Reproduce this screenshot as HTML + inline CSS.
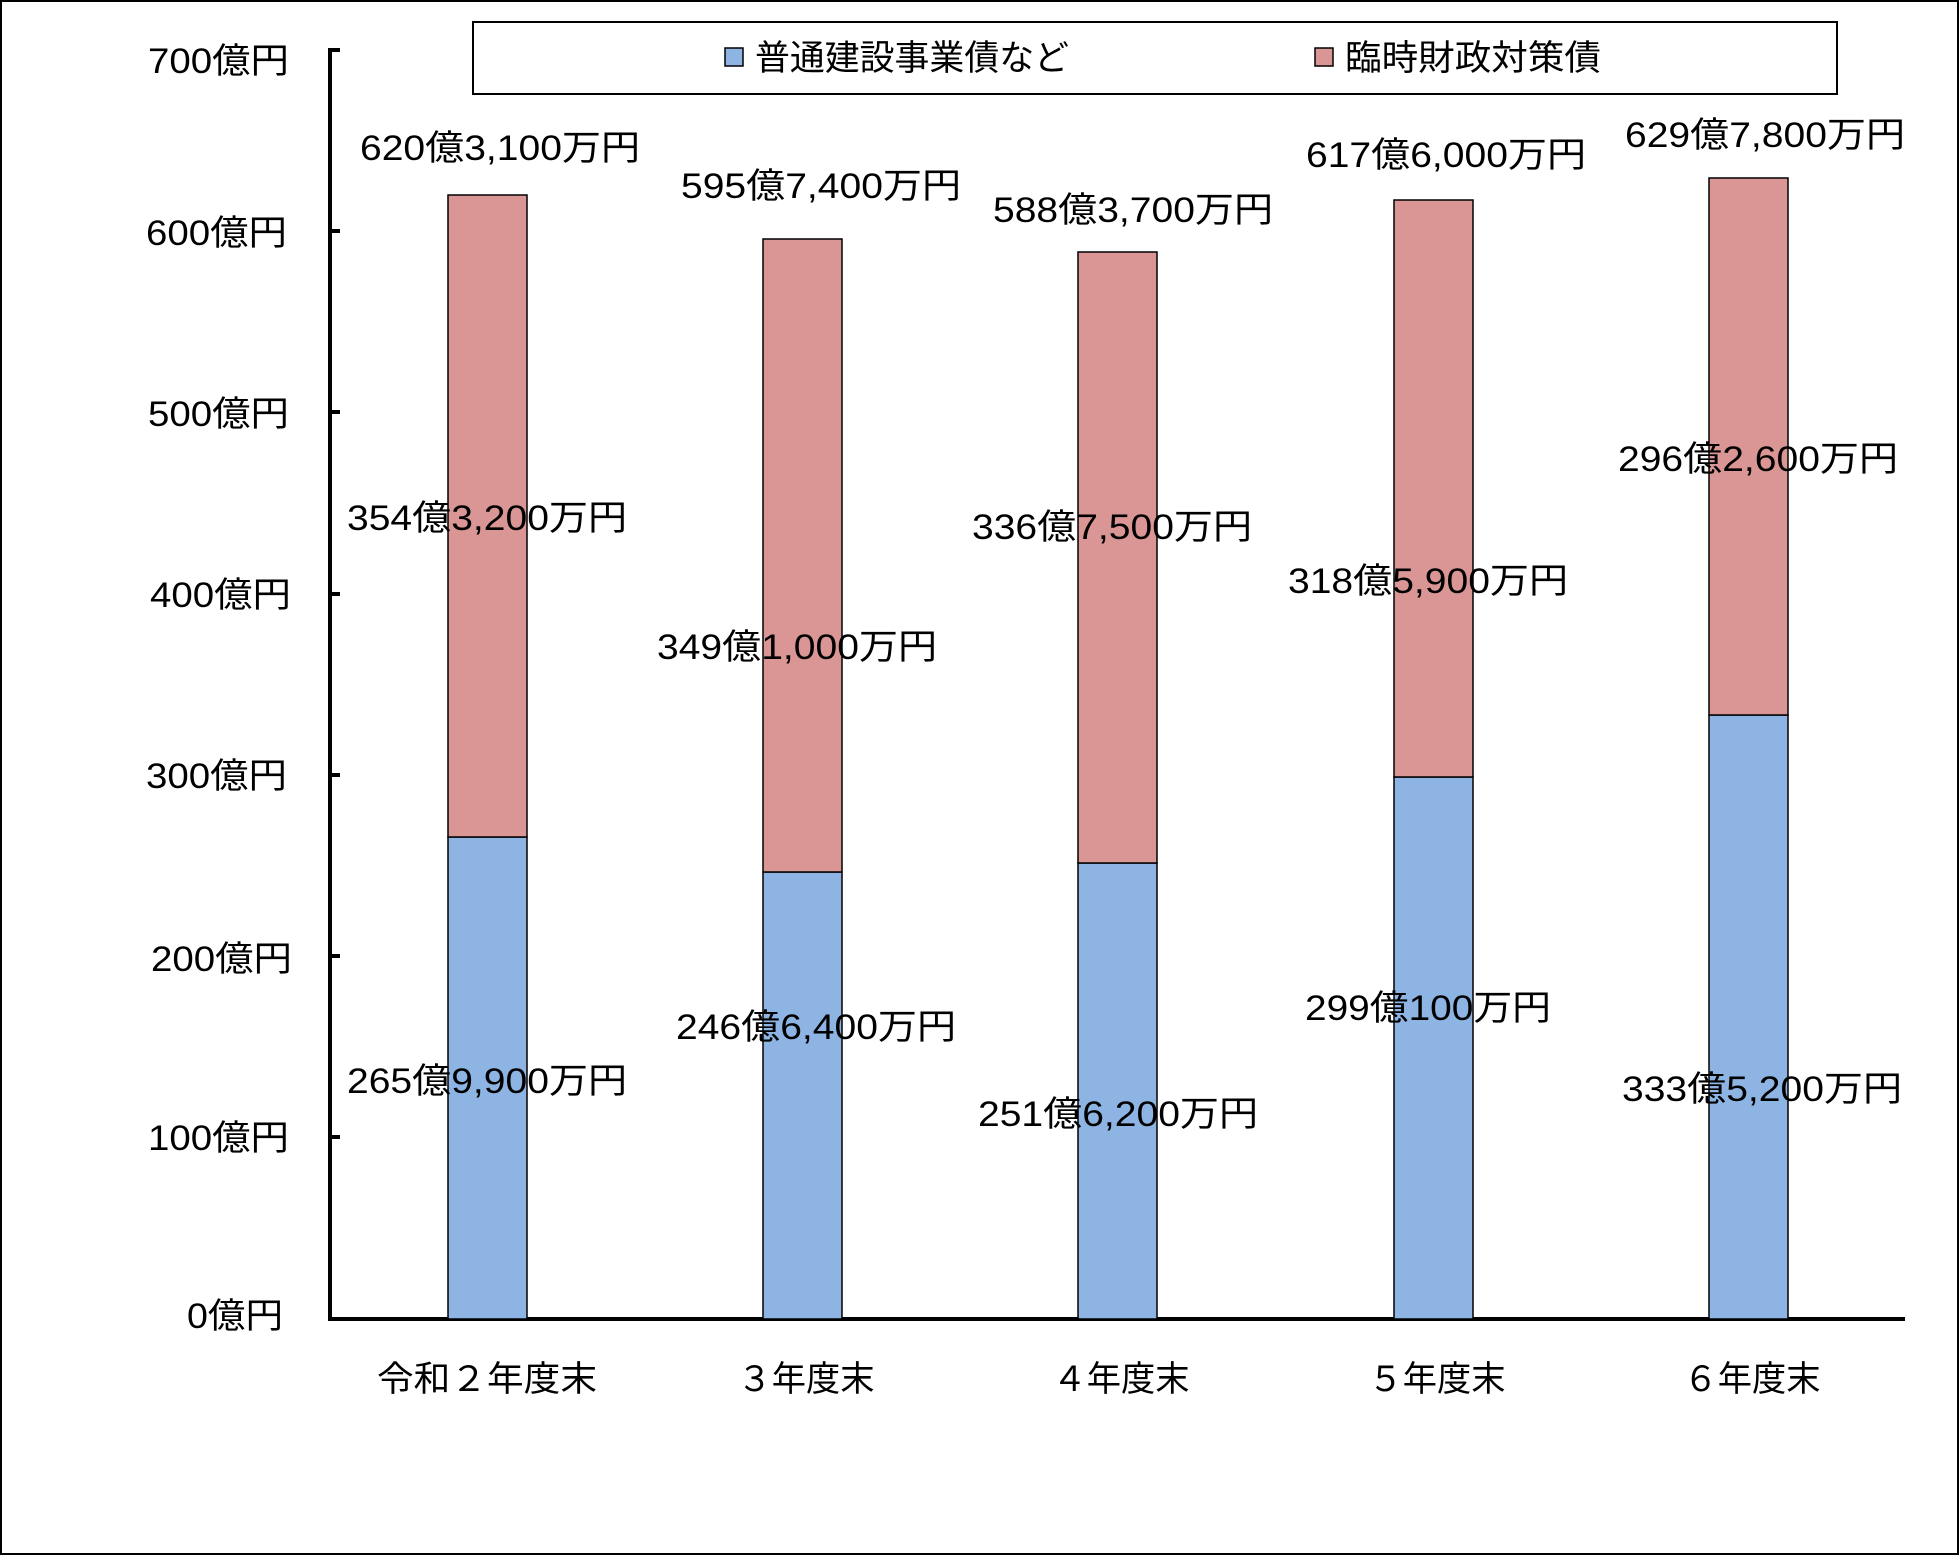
<!DOCTYPE html>
<html><head><meta charset="utf-8"><style>
html,body{margin:0;padding:0;background:#fff}
svg{display:block}
text{font-family:"Liberation Sans","Noto Sans CJK JP",sans-serif;font-size:35px;fill:#000}
</style></head><body>
<svg width="1959" height="1555" viewBox="0 0 1959 1555" xmlns="http://www.w3.org/2000/svg">
<rect x="1" y="1" width="1957" height="1553" fill="#fff" stroke="#000" stroke-width="2"/>
<rect x="473" y="22" width="1364" height="72" fill="#fff" stroke="#000" stroke-width="2"/>
<rect x="725" y="48" width="18" height="18" fill="#8EB4E3" stroke="#000" stroke-width="1.5"/>
<text x="755" y="70" textLength="314" lengthAdjust="spacingAndGlyphs">普通建設事業債など</text>
<rect x="1315" y="48" width="18" height="18" fill="#D99694" stroke="#000" stroke-width="1.5"/>
<text x="1345" y="70" textLength="256" lengthAdjust="spacingAndGlyphs">臨時財政対策債</text>
<g text-anchor="end">
<text x="289" y="73" textLength="141" lengthAdjust="spacingAndGlyphs">700億円</text>
<text x="287" y="245" textLength="141" lengthAdjust="spacingAndGlyphs">600億円</text>
<text x="289" y="426" textLength="141" lengthAdjust="spacingAndGlyphs">500億円</text>
<text x="291" y="607" textLength="141" lengthAdjust="spacingAndGlyphs">400億円</text>
<text x="287" y="788" textLength="141" lengthAdjust="spacingAndGlyphs">300億円</text>
<text x="292" y="971" textLength="141" lengthAdjust="spacingAndGlyphs">200億円</text>
<text x="289" y="1150" textLength="141" lengthAdjust="spacingAndGlyphs">100億円</text>
<text x="283" y="1328" textLength="96" lengthAdjust="spacingAndGlyphs">0億円</text>
</g>
<g stroke="#000" stroke-width="4">
<line x1="330" y1="48" x2="330" y2="1320"/>
<line x1="328" y1="1319" x2="1905" y2="1319"/>
<line x1="330" y1="50" x2="340" y2="50"/>
<line x1="330" y1="231" x2="340" y2="231"/>
<line x1="330" y1="412" x2="340" y2="412"/>
<line x1="330" y1="594" x2="340" y2="594"/>
<line x1="330" y1="775" x2="340" y2="775"/>
<line x1="330" y1="956" x2="340" y2="956"/>
<line x1="330" y1="1137" x2="340" y2="1137"/>
</g>
<g stroke="#000" stroke-width="1.5">
<rect x="448" y="837" width="79" height="482" fill="#8EB4E3"/>
<rect x="448" y="195" width="79" height="642" fill="#D99694"/>
<rect x="763" y="872" width="79" height="447" fill="#8EB4E3"/>
<rect x="763" y="239" width="79" height="633" fill="#D99694"/>
<rect x="1078" y="863" width="79" height="456" fill="#8EB4E3"/>
<rect x="1078" y="252" width="79" height="611" fill="#D99694"/>
<rect x="1394" y="777" width="79" height="542" fill="#8EB4E3"/>
<rect x="1394" y="200" width="79" height="577" fill="#D99694"/>
<rect x="1709" y="715" width="79" height="604" fill="#8EB4E3"/>
<rect x="1709" y="178" width="79" height="537" fill="#D99694"/>
</g>
<g text-anchor="middle">
<text x="500" y="160" textLength="280" lengthAdjust="spacingAndGlyphs">620億3,100万円</text>
<text x="821" y="198" textLength="280" lengthAdjust="spacingAndGlyphs">595億7,400万円</text>
<text x="1133" y="222" textLength="280" lengthAdjust="spacingAndGlyphs">588億3,700万円</text>
<text x="1446" y="167" textLength="280" lengthAdjust="spacingAndGlyphs">617億6,000万円</text>
<text x="1765" y="147" textLength="280" lengthAdjust="spacingAndGlyphs">629億7,800万円</text>
<text x="487" y="530" textLength="280" lengthAdjust="spacingAndGlyphs">354億3,200万円</text>
<text x="797" y="659" textLength="280" lengthAdjust="spacingAndGlyphs">349億1,000万円</text>
<text x="1112" y="539" textLength="280" lengthAdjust="spacingAndGlyphs">336億7,500万円</text>
<text x="1428" y="593" textLength="280" lengthAdjust="spacingAndGlyphs">318億5,900万円</text>
<text x="1758" y="471" textLength="280" lengthAdjust="spacingAndGlyphs">296億2,600万円</text>
<text x="487" y="1093" textLength="280" lengthAdjust="spacingAndGlyphs">265億9,900万円</text>
<text x="816" y="1039" textLength="280" lengthAdjust="spacingAndGlyphs">246億6,400万円</text>
<text x="1118" y="1126" textLength="280" lengthAdjust="spacingAndGlyphs">251億6,200万円</text>
<text x="1428" y="1020" textLength="246" lengthAdjust="spacingAndGlyphs">299億100万円</text>
<text x="1762" y="1101" textLength="280" lengthAdjust="spacingAndGlyphs">333億5,200万円</text>
<text x="487" y="1391" textLength="220" lengthAdjust="spacingAndGlyphs">令和２年度末</text>
<text x="806" y="1391" textLength="137" lengthAdjust="spacingAndGlyphs">３年度末</text>
<text x="1121" y="1391" textLength="137" lengthAdjust="spacingAndGlyphs">４年度末</text>
<text x="1437" y="1391" textLength="137" lengthAdjust="spacingAndGlyphs">５年度末</text>
<text x="1752" y="1391" textLength="137" lengthAdjust="spacingAndGlyphs">６年度末</text>
</g>
</svg>
</body></html>
